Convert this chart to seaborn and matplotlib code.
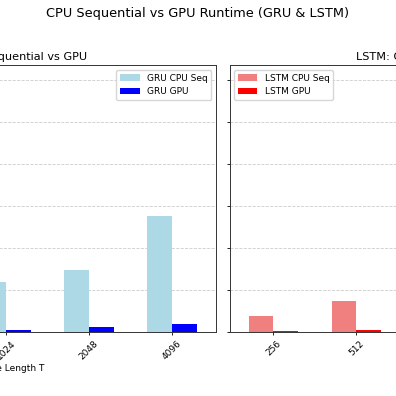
import matplotlib
matplotlib.use("Agg")
import matplotlib.pyplot as plt
import pandas as pd
import seaborn as sns

# sequence lengths on the x axis
seq_len = ["256", "512", "1024", "2048", "4096"]

# runtimes (same scale for both panels)
gru_cpu = [0.30, 0.60, 1.20, 1.47, 2.77]
gru_gpu = [0.02, 0.03, 0.055, 0.11, 0.19]
lstm_cpu = [0.37, 0.74, 1.50, 3.00, 6.05]
lstm_gpu = [0.03, 0.05, 0.08, 0.14, 0.25]


def long_df(cpu, gpu, name):
    rows = []
    for t, c, g in zip(seq_len, cpu, gpu):
        rows.append({"T": t, "mode": f"{name} CPU Seq", "runtime": c})
        rows.append({"T": t, "mode": f"{name} GPU", "runtime": g})
    return pd.DataFrame(rows)


def panel(ax, df, colors, title, legend_loc, label_x):
    sns.barplot(data=df, x="T", y="runtime", hue="mode", palette=colors,
                width=0.6, saturation=1, errorbar=None, linewidth=0, ax=ax)
    ax.set_xlim(-0.53, 4.53)
    ax.set_title(title, fontsize=8.1, pad=4)
    ax.set_xlabel("Sequence Length T", fontsize=6.5, labelpad=2)
    ax.xaxis.label.set_x(label_x)
    ax.set_ylabel("Runtime (s)", fontsize=6.5)
    ax.grid(axis="y", linestyle="--", color="#cccccc", linewidth=0.6)
    ax.set_axisbelow(True)
    ax.tick_params(axis="x", labelrotation=45, labelsize=6.5, length=2.5, width=0.6, pad=2.5)
    ax.tick_params(axis="y", labelsize=6.5, length=2.5, width=0.6)
    for s in ax.spines.values():
        s.set_color("#333333")
        s.set_linewidth(0.7)
    ax.legend(loc=legend_loc, fontsize=6.5, framealpha=0.8, handlelength=2.2)


fig, axes = plt.subplots(1, 2, figsize=(3.96, 3.96), dpi=100, sharey=True)

panel(axes[0], long_df(gru_cpu, gru_gpu, "GRU"), ["lightblue", "blue"],
      "GRU: CPU Sequential vs GPU", "upper right", 0.488)
panel(axes[1], long_df(lstm_cpu, lstm_gpu, "LSTM"), ["lightcoral", "red"],
      "LSTM: CPU Sequential vs GPU", "upper left", 0.51)
axes[1].set_ylabel("")
axes[0].set_ylim(0, 6.35)

# the picture is the middle part of a wide two-panel figure
axes[0].set_position([-204 / 396, 64 / 396, 420 / 396, 266.5 / 396])
axes[1].set_position([229.5 / 396, 64 / 396, 420 / 396, 266.5 / 396])

fig.suptitle("CPU Sequential vs GPU Runtime (GRU & LSTM)", fontsize=9.3, y=0.965, va="center")

fig.savefig("out.png", dpi=100)
